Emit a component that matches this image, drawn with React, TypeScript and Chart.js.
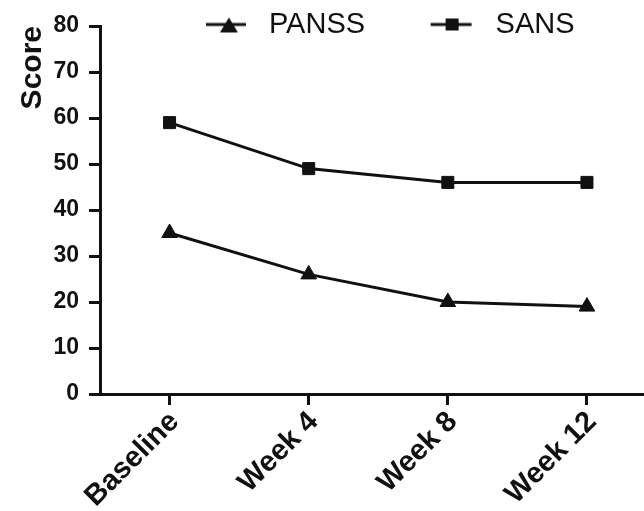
import React, { useEffect, useRef } from 'react';
import { Chart, registerables } from 'chart.js';

Chart.register(...registerables);

const categories = ['Baseline', 'Week 4', 'Week 8', 'Week 12'];
const seriesNames = ['PANSS', 'SANS'];
const panssValues = [35, 26, 20, 19];
const sansValues = [59, 49, 46, 46];
const yMin = 0;
const yMax = 80;
const yStep = 10;

const FONT = "'Liberation Sans', Arial, Helvetica, sans-serif";
const INK = '#111';

function makeLegendIcon(kind: 'triangle' | 'rect'): HTMLCanvasElement {
  const c = document.createElement('canvas');
  c.width = 80;
  c.height = 20;
  const ctx = c.getContext('2d')!;
  ctx.strokeStyle = INK;
  ctx.fillStyle = INK;
  ctx.lineWidth = 3;
  ctx.beginPath();
  if (kind === 'triangle') {
    ctx.moveTo(34, 10);
    ctx.lineTo(74, 10);
    ctx.stroke();
    ctx.beginPath();
    ctx.moveTo(57, 3);
    ctx.lineTo(66, 18);
    ctx.lineTo(48, 18);
    ctx.closePath();
    ctx.fill();
  } else {
    ctx.moveTo(32, 10);
    ctx.lineTo(73, 10);
    ctx.stroke();
    ctx.fillRect(47, 4, 13, 12);
  }
  return c;
}

// The legend overlaps the top of the plot area: keep its layout height small,
// but let it draw below its reserved box.
const legendOverflow = {
  id: 'legendOverflow',
  afterLayout(chart: any) {
    const lg = chart.legend;
    if (lg) {
      lg.height = 80;
      lg.bottom = lg.top + 80;
    }
  },
};

export default function App() {
  const canvasRef = useRef<HTMLCanvasElement | null>(null);

  useEffect(() => {
    document.body.style.margin = '0';
    const canvas = canvasRef.current;
    if (!canvas) return;
    const icons = [makeLegendIcon('triangle'), makeLegendIcon('rect')];

    const chart = new Chart(canvas, {
      type: 'line',
      data: {
        datasets: [
          {
            label: seriesNames[0],
            data: panssValues.map((v, i) => ({ x: i, y: v })),
            borderColor: INK,
            backgroundColor: INK,
            borderWidth: 3,
            pointStyle: 'triangle',
            pointRadius: 9,
            pointBorderWidth: 1,
            pointBackgroundColor: INK,
            pointBorderColor: INK,
            tension: 0,
          },
          {
            label: seriesNames[1],
            data: sansValues.map((v, i) => ({ x: i, y: v })),
            borderColor: INK,
            backgroundColor: INK,
            borderWidth: 3,
            pointStyle: 'rect',
            pointRadius: 8.5,
            pointBorderWidth: 1,
            pointBackgroundColor: INK,
            pointBorderColor: INK,
            tension: 0,
          },
        ],
      },
      options: {
        responsive: false,
        animation: false,
        layout: { autoPadding: false, padding: { top: -21, left: 0, right: 0, bottom: 0 } },
        plugins: {
          tooltip: { enabled: false },
          legend: {
            display: true,
            position: 'top',
            fullSize: false,
            align: 'center',
            maxHeight: 47,
            labels: {
              usePointStyle: true,
              pointStyleWidth: 85,
              padding: 31,
              color: INK,
              font: { family: FONT, size: 29, weight: 'normal' },
              generateLabels: (ch: any) =>
                ch.data.datasets.map((ds: any, i: number) => ({
                  text: ds.label,
                  pointStyle: icons[i],
                  fillStyle: INK,
                  strokeStyle: INK,
                  fontColor: INK,
                  lineWidth: 0,
                  hidden: false,
                  datasetIndex: i,
                })),
            },
          },
        },
        scales: {
          x: {
            type: 'linear',
            min: -0.5,
            max: 3.41,
            afterBuildTicks: (s: any) => {
              s.ticks = categories.map((_, i) => ({ value: i }));
            },
            afterFit: (s: any) => {
              s.height = 117;
              s.paddingLeft = 0;
              s.paddingRight = 0;
            },
            ticks: {
              autoSkip: false,
              minRotation: 45,
              maxRotation: 45,
              padding: 0,
              labelOffset: 5,
              color: INK,
              font: { family: FONT, size: 29, weight: 'bold' },
              callback: (v: any) => categories[v as number] ?? '',
            },
            grid: {
              drawOnChartArea: false,
              drawTicks: true,
              tickLength: 11,
              tickWidth: 3,
              tickColor: INK,
            },
            border: { display: true, width: 3, color: INK },
          },
          y: {
            type: 'linear',
            min: yMin,
            max: yMax,
            afterFit: (s: any) => {
              s.width = 100;
            },
            ticks: {
              stepSize: yStep,
              padding: 10,
              color: INK,
              font: { family: FONT, size: 23, weight: 'bold' },
            },
            grid: {
              drawOnChartArea: false,
              drawTicks: true,
              tickLength: 11,
              tickWidth: 3,
              tickColor: INK,
            },
            border: { display: true, width: 3, color: INK },
            title: {
              display: true,
              text: 'Score',
              align: 'end',
              color: INK,
              font: { family: FONT, size: 30, weight: 'bold' },
              padding: { top: 15, bottom: 0 },
            },
          },
        },
      },
      plugins: [legendOverflow],
    } as any);

    return () => {
      chart.destroy();
    };
  }, []);

  return (
    <div style={{ width: 644, height: 511 }}>
      <canvas ref={canvasRef} width={644} height={511} style={{ display: 'block' }} />
    </div>
  );
}
